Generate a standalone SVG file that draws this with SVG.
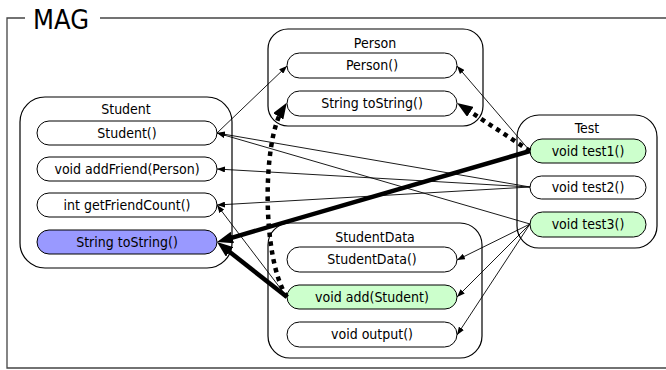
<svg xmlns="http://www.w3.org/2000/svg" width="666" height="370" viewBox="0 0 666 370">
<style>
text{font-family:"DejaVu Sans Condensed","DejaVu Sans",sans-serif;font-size:14px;fill:#000;text-anchor:middle}
.box{fill:#fff;stroke:#000;stroke-width:1.2}
.pill{fill:#fff;stroke:#000;stroke-width:1}
.green{fill:#ccffcc}
.blue{fill:#9999ff}
.thin{fill:none;stroke:#000;stroke-width:0.9;marker-end:url(#ah)}
.thick{fill:none;stroke:#000;stroke-width:4.5;marker-end:url(#ahb)}
.dot{fill:none;stroke:#000;stroke-width:4.5;stroke-dasharray:4.5 4.5;marker-end:url(#ahb)}
.frame{fill:none;stroke:#444;stroke-width:1.3}
</style>
<defs>
<marker id="ah" viewBox="0 0 8 6" refX="8" refY="3" markerWidth="8" markerHeight="6" markerUnits="userSpaceOnUse" orient="auto"><path d="M0,0 L8,3 L0,6 z" fill="#000"/></marker>
<marker id="ahb" viewBox="0 0 16 12" refX="8" refY="6" markerWidth="16" markerHeight="12" markerUnits="userSpaceOnUse" orient="auto"><path d="M0,0 L16,6 L0,12 z" fill="#000"/></marker>
</defs>
<g id="frame">
<path class="frame" d="M25,18 H7 V368 H666"/>
<path class="frame" d="M100,18 H666"/>
<text x="61" y="29" style="font-size:27px">MAG</text>
</g>
<g id="Student">
<rect class="box" x="20" y="97" width="212" height="171" rx="25"/>
<text x="126" y="114">Student</text>
<g id="Student_ctor"><rect class="pill" x="37" y="121" width="180" height="24" rx="12"/><text x="127" y="138">Student()</text></g>
<g id="Student_addFriend"><rect class="pill" x="37" y="157" width="180" height="24" rx="12"/><text x="127" y="174">void addFriend(Person)</text></g>
<g id="Student_getFriendCount"><rect class="pill" x="37" y="193" width="180" height="24" rx="12"/><text x="127" y="210">int getFriendCount()</text></g>
<g id="Student_toString"><rect class="pill blue" x="37" y="230" width="180" height="24" rx="12"/><text x="127" y="247">String toString()</text></g>
</g>
<g id="Person">
<rect class="box" x="268" y="29" width="215" height="97" rx="20"/>
<text x="375" y="48">Person</text>
<g id="Person_ctor"><rect class="pill" x="287" y="53" width="170" height="25" rx="12.5"/><text x="372" y="70">Person()</text></g>
<g id="Person_toString"><rect class="pill" x="287" y="91" width="170" height="25" rx="12.5"/><text x="372" y="108">String toString()</text></g>
</g>
<g id="StudentData">
<rect class="box" x="268" y="223" width="214" height="135" rx="22"/>
<text x="375" y="242">StudentData</text>
<g id="StudentData_ctor"><rect class="pill" x="287" y="247" width="170" height="25" rx="12.5"/><text x="372" y="264">StudentData()</text></g>
<g id="StudentData_add"><rect class="pill green" x="287" y="285" width="170" height="24" rx="12"/><text x="372" y="302">void add(Student)</text></g>
<g id="StudentData_output"><rect class="pill" x="287" y="322" width="170" height="25" rx="12.5"/><text x="372" y="339">void output()</text></g>
</g>
<g id="Test">
<rect class="box" x="517" y="115" width="140" height="133" rx="22"/>
<text x="587" y="133">Test</text>
<g id="Test_test1"><rect class="pill green" x="530" y="139" width="116" height="24" rx="12"/><text x="588" y="156">void test1()</text></g>
<g id="Test_test2"><rect class="pill" x="530" y="176" width="116" height="23" rx="11.5"/><text x="588" y="192">void test2()</text></g>
<g id="Test_test3"><rect class="pill green" x="530" y="212" width="116" height="25" rx="12.5"/><text x="588" y="229">void test3()</text></g>
</g>
<g id="connectors">
<path class="thin" d="M217,133 L287,66"/>
<path class="thin" d="M530,151 L457,66"/>
<path class="thin" d="M530,187 L217,133"/>
<path class="thin" d="M530,187 L217,169"/>
<path class="thin" d="M530,187 L217,205"/>
<path class="thin" d="M530,224 L217,133"/>
<path class="thin" d="M530,224 L457,260"/>
<path class="thin" d="M530,224 L457,297"/>
<path class="thin" d="M530,224 L457,335"/>
<path class="thin" d="M287,297 L217,205"/>
<path class="thick" d="M530,151 L224.7,239.8"/>
<path class="thick" d="M287,297 L223.3,246.9"/>
<path class="dot" d="M530,151 L463.7,107.4"/>
<path class="dot" d="M287,297 C262,260 262,142 282.5,109.6"/>
</g>
</svg>
